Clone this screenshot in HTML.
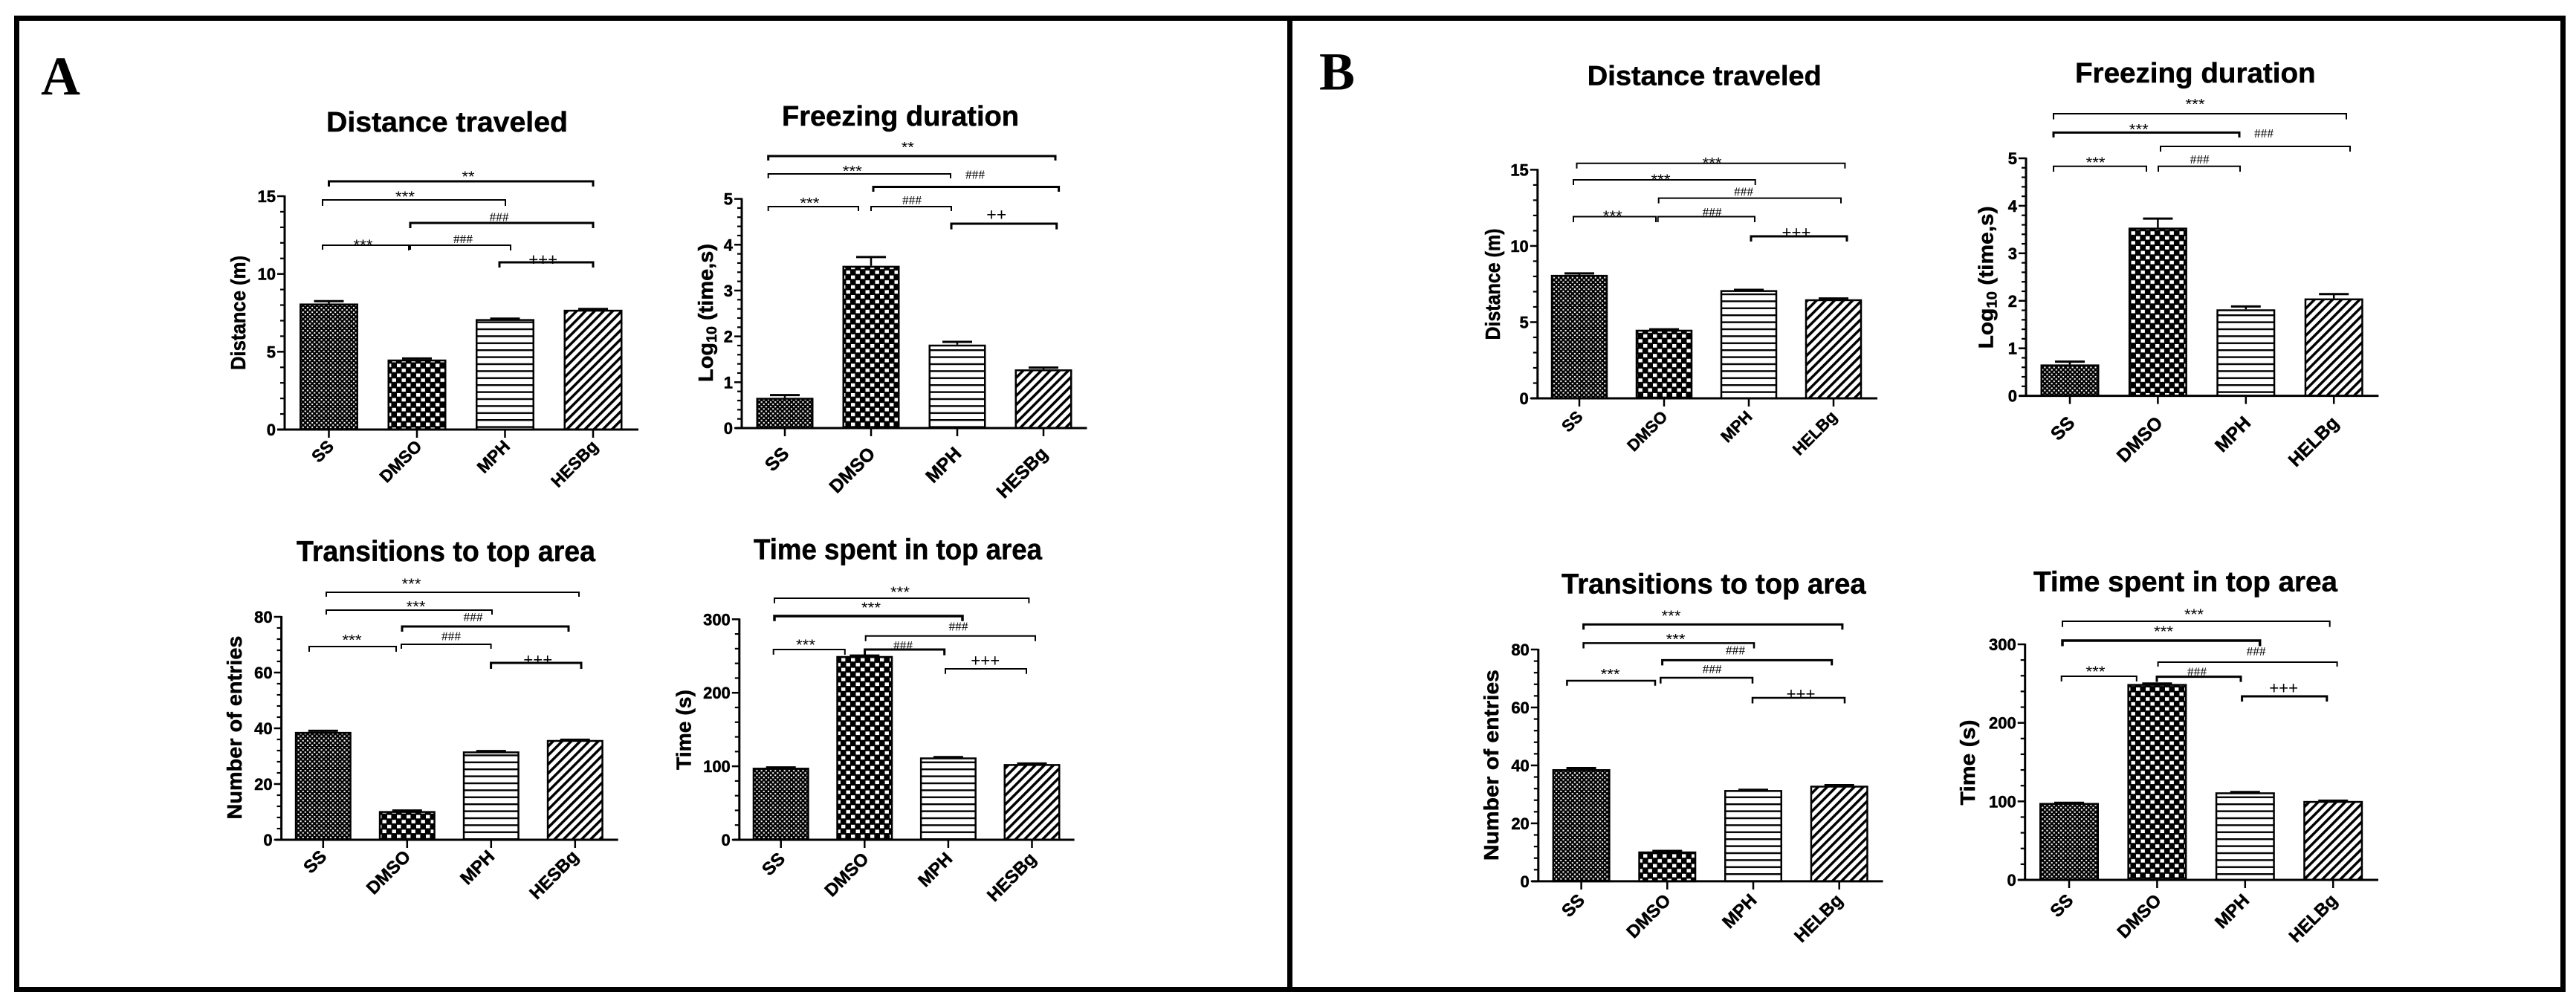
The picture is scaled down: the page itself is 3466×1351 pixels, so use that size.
<!DOCTYPE html>
<html lang="en">
<head>
<meta charset="utf-8">
<title>Behavioral bar charts, panels A and B</title>
<style>
html,body{margin:0;padding:0;background:#fff;}
svg{display:block;}
text{font-family:"Liberation Sans",Arial,sans-serif;fill:#000;}
text[font-weight="700"]{stroke:#000;stroke-width:0.5px;}
</style>
</head>
<body>
<svg id="figure" xmlns="http://www.w3.org/2000/svg" width="3466" height="1351" viewBox="0 0 3466 1351">
  <defs>
    <pattern id="dots" patternUnits="userSpaceOnUse" width="6.2" height="6.2">
      <rect width="6.2" height="6.2" fill="#000"/>
      <rect x="0.6" y="0.6" width="2.1" height="2" fill="#fff"/>
      <rect x="3.7" y="3.7" width="2.1" height="2" fill="#fff"/>
    </pattern>
    <pattern id="checks" patternUnits="userSpaceOnUse" width="13" height="13.2">
      <rect width="13" height="13.2" fill="#000"/>
      <rect x="1" y="1" width="5.4" height="4.7" fill="#fff"/>
      <rect x="7.5" y="7.6" width="5.4" height="4.7" fill="#fff"/>
    </pattern>
    <pattern id="hlines" patternUnits="userSpaceOnUse" width="10" height="9.4">
      <rect width="10" height="9.4" fill="#fff"/>
      <rect y="0" width="10" height="2.4" fill="#000"/>
    </pattern>
    <pattern id="diag" patternUnits="userSpaceOnUse" width="8.6" height="8.6" patternTransform="rotate(45)">
      <rect width="8.6" height="8.6" fill="#fff"/>
      <rect width="3.5" height="8.6" fill="#000"/>
    </pattern>
  </defs>
  <rect x="0" y="0" width="3466" height="1351" fill="#fff"/>
  <rect x="22.5" y="24.5" width="3426" height="1307" fill="none" stroke="#000" stroke-width="7"/>
  <rect x="1732" y="21" width="7" height="1314" fill="#000"/>
  <text x="55" y="127" font-size="74" textLength="53" lengthAdjust="spacingAndGlyphs" style="font-family:'Liberation Serif',serif;font-weight:700">A</text>
  <text x="1775" y="120.5" font-size="72" textLength="48" lengthAdjust="spacingAndGlyphs" style="font-family:'Liberation Serif',serif;font-weight:700">B</text>
</svg>
<script>
// ---- Data ----
const categoriesA = ['SS', 'DMSO', 'MPH', 'HESBg'];
const categoriesB = ['SS', 'DMSO', 'MPH', 'HELBg'];

const distanceValuesA = [8.1, 4.5, 7.1, 7.7];
const distanceErrorsA = [0.15, 0.07, 0.03, 0.05];
const distanceTicksA = [0, 5, 10, 15];

const freezingValuesA = [0.66, 3.54, 1.82, 1.28];
const freezingErrorsA = [0.06, 0.19, 0.06, 0.04];
const freezingTicksA = [0, 1, 2, 3, 4, 5];

const transitionsValuesA = [38.7, 10.3, 31.7, 35.8];
const transitionsErrorsA = [0.4, 0.2, 0.15, 0.1];
const transitionsTicksA = [0, 20, 40, 60, 80];

const topTimeValuesA = [98, 250, 112, 103];
const topTimeErrorsA = [0.4, 0.6, 0.5, 0.8];
const topTimeTicksA = [0, 100, 200, 300];

const distanceValuesB = [8.1, 4.5, 7.1, 6.5];
const distanceErrorsB = [0.1, 0.03, 0.02, 0.05];
const distanceTicksB = [0, 5, 10, 15];

const freezingValuesB = [0.66, 3.54, 1.82, 2.05];
const freezingErrorsB = [0.06, 0.19, 0.06, 0.09];
const freezingTicksB = [0, 1, 2, 3, 4, 5];

const transitionsValuesB = [38.7, 10.3, 31.5, 33];
const transitionsErrorsB = [0.4, 0.2, 0.1, 0.2];
const transitionsTicksB = [0, 20, 40, 60, 80];

const topTimeValuesB = [98, 249.5, 111.5, 100.5];
const topTimeErrorsB = [0.2, 0.6, 0.4, 0.4];
const topTimeTicksB = [0, 100, 200, 300];

const barFills = ['url(#dots)', 'url(#checks)', 'url(#hlines)', 'url(#diag)'];

// ---- Drawing helpers ----
const NS = 'http://www.w3.org/2000/svg';
const figure = document.getElementById('figure');

function make(tag, parent, attrs, text) {
  const node = document.createElementNS(NS, tag);
  Object.keys(attrs).forEach(function (k) { node.setAttribute(k, attrs[k]); });
  if (text !== undefined) node.textContent = text;
  parent.appendChild(node);
  return node;
}

function drawChart(c) {
  const g = make('g', figure, {});
  
  

  const yScale = function (v) { return c.y0 + (c.yTop - c.y0) * (v / c.yMax); };
  const xScale = function (i) { return c.first + c.step * i; };

  const title = make('text', g, { x: c.titleX, y: c.titleY, 'font-size': c.titleSize, 'font-weight': 700, textLength: c.titleW, lengthAdjust: 'spacingAndGlyphs' }, c.title);
  
  

  const yl = make('text', g, { x: c.ylX, y: c.ylY, 'font-size': 28, 'font-weight': 700, 'text-anchor': 'middle', textLength: c.ylLen, lengthAdjust: 'spacingAndGlyphs', transform: 'rotate(-90 ' + c.ylX + ' ' + c.ylY + ')' });
  
  
  if (c.logLabel) {
    make('tspan', yl, {}, 'Log');
    make('tspan', yl, { 'font-size': 19, dy: 5 }, '10');
    make('tspan', yl, { dy: -5 }, ' (time,s)');
  } else {
    yl.textContent = c.ylabel;
  }

  // bars and error bars
  c.values.forEach(function (v, i) {
    const cx = xScale(i);
    const top = yScale(v);
    const errTop = yScale(v + c.errors[i]);

    const stem = make('line', g, { x1: cx, x2: cx, y1: top, y2: errTop, stroke: '#000', 'stroke-width': 2.5 });
    
    

    const cap = make('line', g, { x1: cx - 20, x2: cx + 20, y1: errTop, y2: errTop, stroke: '#000', 'stroke-width': 3 });
    
    

    const bar = make('rect', g, { x: cx - c.barW / 2 + 1.25, y: top + 1.25, width: c.barW - 2.5, height: c.y0 - top - 1.25, fill: barFills[i], stroke: '#000', 'stroke-width': 2.5 });
    
    

    const tick = make('line', g, { x1: cx, x2: cx, y1: c.y0, y2: c.y0 + 11, stroke: '#000', 'stroke-width': 2.5 });
    
    

    const lx = cx + c.labelDx;
    const ly = c.y0 + c.labelDy;
    const label = make('text', g, { x: lx, y: ly, 'font-size': c.labelSize, 'font-weight': 700, 'text-anchor': 'end', transform: 'rotate(-45 ' + lx + ' ' + ly + ')' }, c.categories[i]);
    
    
  });

  // y axis ticks
  const major = c.ticks[1] - c.ticks[0];
  const minor = major / 5;
  for (let m = 0; m <= c.yMax / minor + 0.001; m++) {
    const val = m * minor;
    if (m % 5 === 0) continue;
    const my = yScale(val);
    const mt = make('line', g, { x1: c.left - 6, x2: c.left, y1: my, y2: my, stroke: '#000', 'stroke-width': 2.2 });
    
    
  }
  c.ticks.forEach(function (t) {
    const ty = yScale(t);
    const tk = make('line', g, { x1: c.left - 10, x2: c.left, y1: ty, y2: ty, stroke: '#000', 'stroke-width': 2.5 });
    
    
    const tl = make('text', g, { x: c.left - 12, y: ty + 8, 'font-size': 22, 'font-weight': 700, 'text-anchor': 'end' }, String(t));
    
    
  });

  const yAxis = make('line', g, { x1: c.left, x2: c.left, y1: c.yTop - 1, y2: c.y0, stroke: '#000', 'stroke-width': 3 });
  
  
  const xAxis = make('line', g, { x1: c.xStart, x2: c.xEnd, y1: c.y0, y2: c.y0, stroke: '#000', 'stroke-width': 3 });
  
  
  return g;
}

const labelStyles = {
  '***': { family: 'Liberation Sans', size: 20, dy: 11.4, len: 26 },
  '**': { family: 'Liberation Sans', size: 20, dy: 11.4, len: 17 },
  '###': { family: 'Liberation Serif', size: 17, dy: 6, len: 26 },
  '+++': { family: 'Liberation Sans', size: 23, dy: 7.6, len: 39 },
  '++': { family: 'Liberation Sans', size: 23, dy: 7.6, len: 27 }
};

// significance annotation: bracket from x1 to x2 at height y, legs down to yEnd
function sig(g, x1, x2, y, yEnd, thick, text, tx, ty) {
  const path = make('path', g, { d: 'M' + x1 + ' ' + yEnd + 'V' + y + 'H' + x2 + 'V' + yEnd, fill: 'none', stroke: '#000', 'stroke-width': thick });
  
  
  const s = labelStyles[text];
  const label = make('text', g, { x: tx, y: ty + s.dy, 'font-size': s.size, 'text-anchor': 'middle', textLength: s.len, lengthAdjust: 'spacingAndGlyphs', style: 'font-family:"' + s.family + '",serif' }, text);
  
  
}

// ---- Panel A ----
const a1 = drawChart({ id: 'a-distance', title: 'Distance traveled', ylabel: 'Distance (m)', categories: categoriesA, values: distanceValuesA, errors: distanceErrorsA, ticks: distanceTicksA, yMax: 15,
  left: 383, y0: 578, yTop: 264, xStart: 373, xEnd: 859, first: 442.5, step: 118.5, barW: 79, labelDx: 8, labelDy: 24, labelSize: 23,
  titleX: 439, titleY: 177, titleW: 325, titleSize: 38, ylX: 330, ylY: 421, ylLen: 154 });
sig(a1, 442.5, 798, 244, 251, 3, '**', 630, 233);
sig(a1, 434, 680, 269, 277, 2, '***', 545, 260);
sig(a1, 552, 798, 300, 307, 3, '###', 671.6, 291.4);
sig(a1, 434, 552, 330, 336, 2, '***', 488.5, 325);
sig(a1, 550, 687, 330, 337, 2, '###', 623, 321);
sig(a1, 672, 798, 353, 360, 3, '+++', 730.7, 349.6);

const a2 = drawChart({ id: 'a-freezing', title: 'Freezing duration', logLabel: true, categories: categoriesA, values: freezingValuesA, errors: freezingErrorsA, ticks: freezingTicksA, yMax: 5,
  left: 998, y0: 576, yTop: 267.6, xStart: 989.5, xEnd: 1462.5, first: 1056, step: 116, barW: 77, labelDx: 7, labelDy: 36, labelSize: 25,
  titleX: 1052, titleY: 169, titleW: 319, titleSize: 38, ylX: 959, ylY: 421, ylLen: 186 });
sig(a2, 1033.7, 1420, 210, 216, 3, '**', 1221.4, 193.8);
sig(a2, 1033.7, 1279, 234, 240, 2, '***', 1146.8, 225.5);
sig(a2, 1175, 1424.6, 251.5, 258, 3, '###', 1312, 234.7);
sig(a2, 1033.7, 1155, 278, 284, 2, '***', 1089.4, 268.8);
sig(a2, 1172, 1280, 278, 284, 2, '###', 1227, 268.8);
sig(a2, 1280, 1421.7, 301, 308.6, 3, '++', 1340.8, 289);

const a3 = drawChart({ id: 'a-transitions', title: 'Transitions to top area', ylabel: 'Number of entries', categories: categoriesA, values: transitionsValuesA, errors: transitionsErrorsA, ticks: transitionsTicksA, yMax: 80,
  left: 378.6, y0: 1130, yTop: 830, xStart: 370.5, xEnd: 831.7, first: 434.8, step: 113, barW: 76, labelDx: 6, labelDy: 24, labelSize: 24,
  titleX: 399, titleY: 755, titleW: 402, titleSize: 39, ylX: 325, ylY: 979, ylLen: 247 });
sig(a3, 439, 779, 797, 803, 2, '***', 553.5, 781);
sig(a3, 439, 662, 821, 827, 2, '***', 559.6, 811.7);
sig(a3, 541, 765, 843, 850, 3, '###', 636.5, 830);
sig(a3, 416, 533, 870, 877, 2, '***', 473.5, 856.7);
sig(a3, 540, 660.6, 867, 873, 2, '###', 607, 855.7);
sig(a3, 660.6, 782, 892, 900, 3, '+++', 723.8, 888);

const a4 = drawChart({ id: 'a-top-time', title: 'Time spent in top area', ylabel: 'Time (s)', categories: categoriesA, values: topTimeValuesA, errors: topTimeErrorsA, ticks: topTimeTicksA, yMax: 300,
  left: 994.8, y0: 1130, yTop: 833.3, xStart: 986.4, xEnd: 1445.6, first: 1050.7, step: 112.6, barW: 76, labelDx: 7, labelDy: 27, labelSize: 24,
  titleX: 1014, titleY: 752.7, titleW: 388, titleSize: 39, ylX: 929.7, ylY: 982, ylLen: 108 });
sig(a4, 1042, 1384.4, 805, 811.7, 2, '***', 1211, 792);
sig(a4, 1042, 1295, 829, 835.7, 3.5, '***', 1172, 813.3);
sig(a4, 1164.7, 1393, 855.7, 862.7, 2, '###', 1289.5, 842.7);
sig(a4, 1040.7, 1136.8, 874, 881, 2, '***', 1084, 863);
sig(a4, 1163.6, 1270.7, 874, 881.7, 3, '###', 1215, 868);
sig(a4, 1272, 1381, 900, 906.7, 2, '+++', 1325.8, 889);

// ---- Panel B ----
const b1 = drawChart({ id: 'b-distance', title: 'Distance traveled', ylabel: 'Distance (m)', categories: categoriesB, values: distanceValuesB, errors: distanceErrorsB, ticks: distanceTicksB, yMax: 15,
  left: 2068.8, y0: 536, yTop: 228.4, xStart: 2060, xEnd: 2526, first: 2125, step: 114, barW: 76.5, labelDx: 6, labelDy: 26, labelSize: 22,
  titleX: 2135.8, titleY: 114.5, titleW: 315, titleSize: 37, ylX: 2018, ylY: 382.5, ylLen: 150 });
sig(b1, 2121.5, 2482.4, 219.7, 226.7, 2, '***', 2303.6, 214.4);
sig(b1, 2117, 2361.7, 242, 249, 2, '***', 2234.5, 237);
sig(b1, 2231.7, 2477, 266.6, 273.6, 2, '###', 2346, 257.7);
sig(b1, 2117, 2228, 291.5, 299, 2, '***', 2169.8, 286);
sig(b1, 2230.7, 2361, 291.5, 299, 2, '###', 2303.6, 285);
sig(b1, 2356, 2485, 318, 325, 3, '+++', 2417, 312.7);

const b2 = drawChart({ id: 'b-freezing', title: 'Freezing duration', logLabel: true, categories: categoriesB, values: freezingValuesB, errors: freezingErrorsB, ticks: freezingTicksB, yMax: 5,
  left: 2726, y0: 532.6, yTop: 213, xStart: 2717, xEnd: 3200.4, first: 2785, step: 118.4, barW: 79, labelDx: 8, labelDy: 38, labelSize: 25,
  titleX: 2792, titleY: 111, titleW: 323.6, titleSize: 38, ylX: 2681.7, ylY: 373.4, ylLen: 192 });
sig(b2, 2763, 3157, 153, 160.6, 2, '***', 2953.5, 135.7);
sig(b2, 2763, 3013, 178.4, 185, 3, '***', 2877.8, 169.7);
sig(b2, 2907, 3162, 197, 204, 2, '###', 3046, 179);
sig(b2, 2763, 2888, 223.8, 231, 2, '***', 2819.6, 214);
sig(b2, 2904, 3014, 223.8, 231, 2, '###', 2959.7, 214);

const b3 = drawChart({ id: 'b-transitions', title: 'Transitions to top area', ylabel: 'Number of entries', categories: categoriesB, values: transitionsValuesB, errors: transitionsErrorsB, ticks: transitionsTicksB, yMax: 80,
  left: 2069.8, y0: 1185.9, yTop: 874, xStart: 2061, xEnd: 2533.6, first: 2127.6, step: 115.7, barW: 78, labelDx: 6, labelDy: 27, labelSize: 24,
  titleX: 2101, titleY: 798.5, titleW: 409.6, titleSize: 38, ylX: 2015.8, ylY: 1029.6, ylLen: 257 });
sig(b3, 2130.6, 2478.9, 840.3, 847.3, 3, '***', 2248.5, 824);
sig(b3, 2130.6, 2360, 865.4, 872.5, 2.5, '***', 2254.6, 855.8);
sig(b3, 2236.6, 2464.7, 888.4, 895.4, 3, '###', 2335, 874.7);
sig(b3, 2108.4, 2227, 916, 922.8, 2.5, '***', 2166.6, 902.8);
sig(b3, 2234.3, 2358, 912, 919.8, 2.5, '###', 2303.6, 900);
sig(b3, 2358, 2482, 939, 946.5, 2.5, '+++', 2423, 934);

const b4 = drawChart({ id: 'b-top-time', title: 'Time spent in top area', ylabel: 'Time (s)', categories: categoriesB, values: topTimeValuesB, errors: topTimeErrorsB, ticks: topTimeTicksB, yMax: 300,
  left: 2724.7, y0: 1184, yTop: 867, xStart: 2715.6, xEnd: 3200, first: 2784, step: 118.4, barW: 80, labelDx: 7, labelDy: 29, labelSize: 24,
  titleX: 2736, titleY: 795.5, titleW: 409, titleSize: 38, ylX: 2657, ylY: 1026, ylLen: 115 });
sig(b4, 2775, 3134.7, 836, 843.6, 2, '***', 2952, 822);
sig(b4, 2775, 3040.7, 862, 869.5, 3.5, '***', 2911, 845);
sig(b4, 2903.6, 3144.6, 891, 897, 2, '###', 3035.6, 876);
sig(b4, 2773.7, 2874.8, 910, 917, 2, '***', 2819.5, 899);
sig(b4, 2902, 3015, 910.6, 917.6, 3, '###', 2956, 903.5);
sig(b4, 3016.6, 3130.8, 937, 944, 3, '+++', 3072.7, 926);
</script>
</body>
</html>
